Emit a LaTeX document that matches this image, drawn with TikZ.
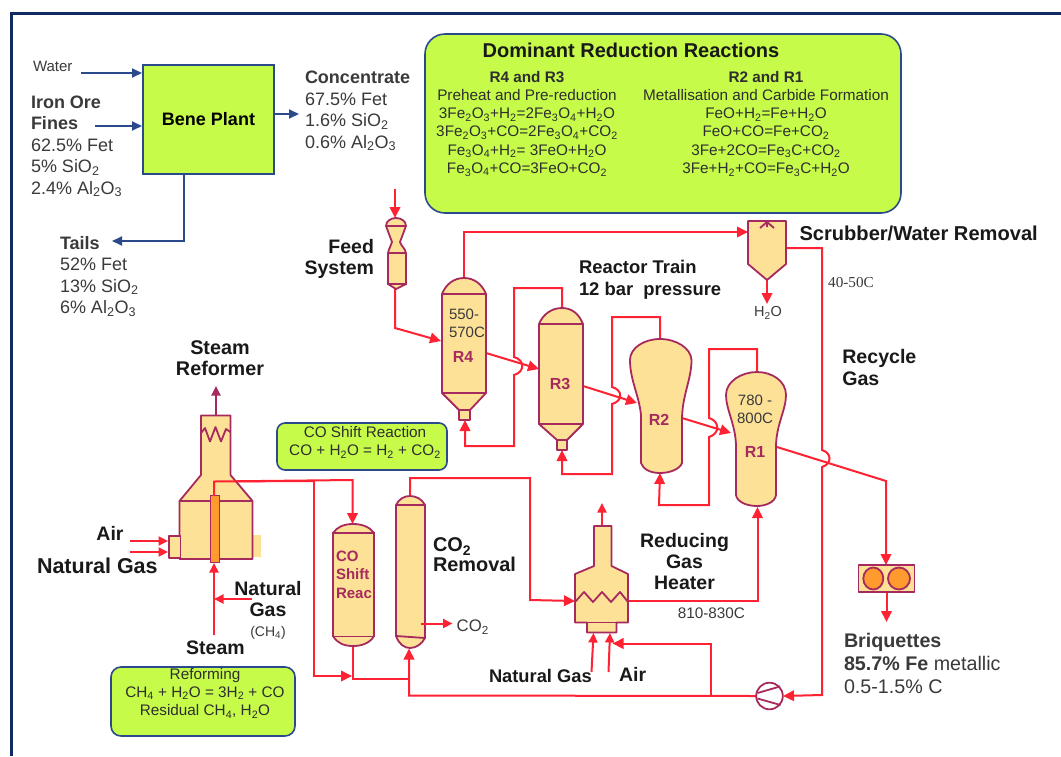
\documentclass[tikz,border=0pt]{standalone}
\usepackage{fontspec}
\setmainfont{Liberation Sans}
\newfontfamily\serifnum{Liberation Serif}
\usetikzlibrary{arrows.meta}
\definecolor{vfill}{HTML}{FDE197}
\definecolor{vline}{HTML}{A62A5E}
\definecolor{redl}{HTML}{FF2233}
\definecolor{lime}{HTML}{C6FB4A}
\definecolor{navy}{HTML}{2B4A8C}
\definecolor{frameblue}{HTML}{102A66}
\definecolor{orangef}{HTML}{FF9A2E}
\definecolor{ink}{HTML}{3A3A3A}
\newcommand\sbb[1]{\textsubscript{#1}}
\tikzset{
  x=1pt,y=-1pt,
  vessel/.style={draw=vline,fill=vfill,line width=1.8pt,line join=round},
  vstroke/.style={draw=vline,line width=1.8pt},
  pipe/.style={draw=redl,line width=2pt,line join=miter},
  arr/.style={pipe,-{Triangle[length=11pt,width=10.5pt]}},
  arrs/.style={pipe,-{Triangle[length=9.5pt,width=9pt]}},
  navyarr/.style={draw=navy,line width=1.8pt,-{Triangle[length=10pt,width=9pt]}},
  limebox/.style={draw=navy,fill=lime,line width=1.6pt,outer sep=0pt},
  txt/.style={inner sep=0pt,outer sep=0pt,text=ink,font=\fontsize{18}{21.5}\selectfont},
  hd/.style={inner sep=0pt,outer sep=0pt,text=black!90,font=\fontsize{19.5}{21}\selectfont\bfseries},
  tag/.style={inner sep=0pt,outer sep=0pt,text=vline,font=\fontsize{16}{19}\selectfont\bfseries},
  rx/.style={inner sep=0pt,outer sep=0pt,text=ink!80!black,font=\fontsize{15.3}{18.3}\selectfont},
}
\begin{document}
\begin{tikzpicture}
\useasboundingbox (0,0) rectangle (1061,756);
\fill[white] (0,0) rectangle (1061,756);
\draw[frameblue,line width=3pt] (11,756) -- (11,13) -- (1061,13);

% ---- Bene plant
\node[limebox,minimum width=131pt,minimum height=109pt,inner sep=0pt,anchor=north west,font=\fontsize{18}{21}\selectfont\bfseries] (bene) at (143,65) {Bene Plant};
\coordinate (waterS) at (81,73);   \coordinate (waterE) at (142,73);
\coordinate (oreS) at (95,126);    \coordinate (oreE) at (142,126);
\coordinate (concS) at (274,114);  \coordinate (concE) at (299,114);
\coordinate (tailS) at (184,174);  \coordinate (tailK) at (184,241); \coordinate (tailE) at (112,241);
\draw[navyarr] (waterS) -- (waterE);
\draw[navyarr] (oreS) -- (oreE);
\draw[navyarr] (concS) -- (concE);
\draw[navyarr] (tailS) -- (tailK) -- (tailE);
\node[txt,anchor=west,font=\fontsize{15}{18}\selectfont] (water) at (33,66) {Water};
\node[txt,anchor=north west,align=left] (ore) at (31,95.5) {\textbf{Iron Ore}\\\textbf{Fines}\\62.5\% Fet\\5\% SiO\sbb{2}\\2.4\% Al\sbb{2}O\sbb{3}};
\node[txt,anchor=north west,align=left] (conc) at (305,71) {\textbf{Concentrate}\\67.5\% Fet\\1.6\% SiO\sbb{2}\\0.6\% Al\sbb{2}O\sbb{3}};
\node[txt,anchor=north west,align=left] (tails) at (60,236) {\textbf{Tails}\\52\% Fet\\13\% SiO\sbb{2}\\6\% Al\sbb{2}O\sbb{3}};

% ---- Dominant reactions box
\node[limebox,rounded corners=20pt,minimum width=476pt,minimum height=179pt,inner sep=0pt,anchor=north west] (dom) at (425,34) {};
\node[inner sep=0pt,text=black!90,font=\fontsize{20}{24}\selectfont\bfseries] (domt) at (631,50) {Dominant Reduction Reactions};
\node[rx,anchor=north,align=center] (rl) at (527,71) {\textbf{R4 and R3}\\Preheat and Pre-reduction\\3Fe\sbb{2}O\sbb{3}+H\sbb{2}=2Fe\sbb{3}O\sbb{4}+H\sbb{2}O\\3Fe\sbb{2}O\sbb{3}+CO=2Fe\sbb{3}O\sbb{4}+CO\sbb{2}\\Fe\sbb{3}O\sbb{4}+H\sbb{2}= 3FeO+H\sbb{2}O\\Fe\sbb{3}O\sbb{4}+CO=3FeO+CO\sbb{2}};
\node[rx,anchor=north,align=center] (rr) at (766,71) {\textbf{R2 and R1}\\Metallisation and Carbide Formation\\FeO+H\sbb{2}=Fe+H\sbb{2}O\\FeO+CO=Fe+CO\sbb{2}\\3Fe+2CO=Fe\sbb{3}C+CO\sbb{2}\\3Fe+H\sbb{2}+CO=Fe\sbb{3}C+H\sbb{2}O};

% ---- Connectors (under the vessels)
\coordinate (feedIn) at (395,189);  \coordinate (feedTop) at (395,218);
\coordinate (feedOut) at (395,289); \coordinate (feedK) at (395,328); \coordinate (r4In) at (441,341);
\draw[arr] (feedIn) -- (feedTop);
\draw[arr] (feedOut) -- (feedK) -- (r4In);

\coordinate (r4Top) at (464,278); \coordinate (r4K) at (464,232); \coordinate (scrIn) at (748,232);
\draw[arr] (r4Top) -- (r4K) -- (scrIn);

\coordinate (r4Out) at (486,353); \coordinate (r3In) at (539,369);
\coordinate (r3Top) at (562,308); \coordinate (r3K1) at (562,288); \coordinate (r3K2) at (514,288);
\coordinate (h4a) at (514,357); \coordinate (h4b) at (514,375);
\coordinate (r3K3) at (514,446); \coordinate (r3K4) at (465,446); \coordinate (r4Bot) at (465,420);
\draw[arr] (r4Out) -- (r3In);
\draw[arr] (r3Top) -- (r3K1) -- (r3K2) -- (h4a) .. controls (525,360) and (525,372) .. (h4b) -- (r3K3) -- (r3K4) -- (r4Bot);

\coordinate (r3Out) at (583,386); \coordinate (r2In) at (637,403);
\coordinate (r2Top) at (660,339); \coordinate (r2K1) at (660,317); \coordinate (r2K2) at (612,317);
\coordinate (h3a) at (612,387); \coordinate (h3b) at (612,404);
\coordinate (r2K3) at (612,474); \coordinate (r2K4) at (562,474); \coordinate (r3Bot) at (562,450);
\draw[arr] (r3Out) -- (r2In);
\draw[arr] (r2Top) -- (r2K1) -- (r2K2) -- (h3a) .. controls (623,390) and (623,401) .. (h3b) -- (r2K3) -- (r2K4) -- (r3Bot);

\coordinate (r2Out) at (682,418); \coordinate (r1In) at (731,433);
\coordinate (r1Top) at (757,372); \coordinate (r1K1) at (757,349); \coordinate (r1K2) at (709,349);
\coordinate (h2a) at (709,418); \coordinate (h2b) at (709,437);
\coordinate (r1K3) at (709,505); \coordinate (r1K4) at (659,505); \coordinate (r2Bot) at (660,473);
\draw[arr] (r2Out) -- (r1In);
\draw[arr] (r1Top) -- (r1K1) -- (r1K2) -- (h2a) .. controls (720,421) and (720,434) .. (h2b) -- (r1K3) -- (r1K4) -- (r2Bot);

\coordinate (r1Out) at (777,447); \coordinate (briqK) at (886,481); \coordinate (briqIn) at (886,565);
\draw[arr] (r1Out) -- (briqK) -- (briqIn);
\coordinate (briqOut) at (886.5,592); \coordinate (briqE) at (886.5,622);
\draw[arr] (briqOut) -- (briqE);

\coordinate (scrOut) at (786,248); \coordinate (recK) at (822,248);
\coordinate (h1a) at (822,450); \coordinate (h1b) at (822,467);
\coordinate (recK2) at (822,695); \coordinate (compR) at (783,696);
\draw[arr] (scrOut) -- (recK) -- (h1a) .. controls (832,453) and (832,464) .. (h1b) -- (recK2) -- (compR);
\coordinate (scrBot) at (767,280); \coordinate (waterOut) at (767,304);
\draw[arr] (scrBot) -- (waterOut);

% compressor line and recycle
\coordinate (compL) at (756,696); \coordinate (recB) at (711,696); \coordinate (recU) at (711,643.5); \coordinate (heatR) at (612.5,643.5);
\coordinate (co2K) at (409,695.5); \coordinate (co2Bot) at (409,648.5);
\draw[arr] (compL) -- (co2K) -- (co2Bot);
\draw[arr] (recB) -- (recU) -- (heatR);

% reformer outlet
\coordinate (tubeTop) at (214,496); \coordinate (tubeK) at (214,481.5); \coordinate (brk) at (313.5,481);
\coordinate (shK) at (352.5,480); \coordinate (shTop) at (352.5,524);
\coordinate (brkB) at (313.5,676); \coordinate (brkE) at (352,676);
\draw[arr] (tubeTop) -- (tubeK) -- (shK) -- (shTop);
\draw[arr] (brk) -- (brkB) -- (brkE);
\coordinate (shBot) at (352.5,646); \coordinate (shK2) at (352.5,679); \coordinate (shK3) at (409,679);
\draw[pipe] (shBot) -- (shK2) -- (shK3);
\coordinate (co2Top) at (410,496); \coordinate (co2K2) at (410,478); \coordinate (co2K3) at (530,478);
\coordinate (co2K4) at (530,600); \coordinate (heatIn) at (575,601);
\draw[arr] (co2Top) -- (co2K2) -- (co2K3) -- (co2K4) -- (heatIn);

% heater
\coordinate (heatOut) at (628,601); \coordinate (heatK) at (757.5,601); \coordinate (r1Bot) at (757.5,507);
\draw[arr] (heatOut) -- (heatK) -- (r1Bot);
\coordinate (heatTop) at (602,526); \coordinate (heatStack) at (602,503);
\draw[arrs] (heatTop) -- (heatStack);
\coordinate (hNgS) at (591.5,672); \coordinate (hNgE) at (593.5,633);
\coordinate (hAirS) at (608.5,672); \coordinate (hAirE) at (610,633);
\draw[arrs] (hNgS) -- (hNgE);
\draw[arrs] (hAirS) -- (hAirE);

% reformer feeds
\coordinate (stS) at (214,635); \coordinate (stE) at (214,563);
\coordinate (ngS) at (252,599); \coordinate (ngE) at (214,599);
\draw[arrs] (stS) -- (stE);
\draw[arrs] (ngS) -- (ngE);
\coordinate (airS) at (130,541); \coordinate (airE) at (168,541);
\coordinate (gasS) at (130,552); \coordinate (gasE) at (168,552);
\draw[arrs] (airS) -- (airE);
\draw[arrs] (gasS) -- (gasE);
\coordinate (refTop) at (216,416); \coordinate (refStack) at (216,386);
\draw[draw=vline,line width=1.8pt,-{Triangle[length=9.5pt,width=9pt]}] (refTop) -- (refStack);

% ---- Feed system
\path[vessel] (386,226) .. controls (386,221) and (391,218) .. (396,218) .. controls (401,218) and (406,221) .. (406,226) -- (400,242) .. controls (401,246) and (405,248) .. (406,253) -- (406,284) -- (396,289) -- (388,284) -- (388,253) .. controls (389,248) and (391,246) .. (392,242) -- cycle;
\draw[vstroke] (386,226) -- (406,226) (388,253) -- (406,253) (386.5,284) -- (407,284);

% ---- R4
\path[vessel] (442,294) .. controls (446,284) and (454,278) .. (464,278) .. controls (474,278) and (482,284) .. (486,294) -- (486,393) -- (470,410) -- (470,420) -- (459,420) -- (459,410) -- (442,393) -- cycle;
\draw[vstroke] (442,294) -- (486,294) (442,393) -- (486,393) (459,410) -- (470,410);
\node[txt,anchor=north west,align=left,font=\fontsize{15}{18.3}\selectfont] (r4t) at (449,309) {550-\\570C};
\node[tag] (r4) at (463,357) {R4};

% ---- R3
\path[vessel] (539,324) .. controls (543,314) and (552,308) .. (562,308) .. controls (572,308) and (579,314) .. (583,324) -- (583,424) -- (567,440) -- (567,450) -- (557,450) -- (557,440) -- (539,424) -- cycle;
\draw[vstroke] (539,324) -- (583,324) (539,424) -- (583,424) (557,440) -- (567,440);
\node[tag] (r3) at (560,384) {R3};

% ---- R2
\path[vessel] (660,339) .. controls (676,339) and (691,348) .. (691.5,360) .. controls (691.5,380) and (682,395) .. (682,420) -- (682,463) .. controls (680,469) and (670,473) .. (660,473) .. controls (650,473) and (643,469) .. (641,463) -- (641,415) .. controls (639,395) and (630,380) .. (630,360) .. controls (630,348) and (644,339) .. (660,339) -- cycle;
\node[tag] (r2) at (659,420) {R2};

% ---- R1
\path[vessel] (757,372) .. controls (772,372) and (786,381) .. (786,395) .. controls (786,410) and (776,425) .. (776,447) -- (776,495) .. controls (775,502) and (766,506) .. (757,506) .. controls (747,506) and (737,502) .. (736,495) -- (736,447) .. controls (736,425) and (726,410) .. (726,395) .. controls (726,381) and (742,372) .. (757,372) -- cycle;
\node[txt,anchor=north,align=center,font=\fontsize{15}{18.3}\selectfont] (r1t) at (755,395) {780 -\\800C};
\node[tag] (r1) at (755,452) {R1};

% ---- Scrubber
\path[vessel] (748,221) -- (786,221) -- (786,264) -- (767,280) -- (748,264) -- cycle;
\draw[vstroke] (760,228) -- (767,222) -- (774,228) (767,221) -- (767,227);
\node[txt,font=\fontsize{14.5}{17}\selectfont] (h2o) at (768,313) {H\sbb{2}O};

% ---- Reformer
\fill[vfill] (251,535) rectangle (261,557);
\path[vessel] (201,415.5) -- (230.5,415.5) -- (230.5,475) -- (252.5,501) -- (252.5,559) -- (179.5,559) -- (179.5,501) -- (201,475) -- cycle;
\draw[vstroke] (179.5,501) -- (252.5,501);
\draw[vstroke,line join=round] (201,433) -- (205,428) -- (210,441.5) -- (215.5,427) -- (221,441.5) -- (226,429) -- (230.5,432);
\path[vessel] (169,536) rectangle (180.5,558);
\path[draw=vline,fill=orangef,line width=1.8pt] (210.5,495.5) rectangle (219.5,562.5);
\draw[pipe] (tubeTop) -- (tubeK) -- (brk);

% ---- CO shift
\path[vessel] (333,533) .. controls (337,527) and (344,524) .. (353,524) .. controls (362,524) and (370,527) .. (374,533) -- (374,636) .. controls (370,643) and (362,646) .. (353,646) .. controls (344,646) and (337,643) .. (333,636) -- cycle;
\draw[vstroke] (332,533) -- (375,533) (332,636.5) -- (375,636.5);
\node[tag,anchor=north west,align=left,font=\fontsize{15}{18.3}\selectfont\bfseries] (shift) at (336,551) {CO\\Shift\\Reac};

% ---- CO2 removal
\path[vessel] (396,505) .. controls (399,499) and (404,496) .. (410,496) .. controls (416,496) and (422,499) .. (425,505) -- (425,638) .. controls (422,644) and (416,648) .. (410,648) .. controls (404,648) and (399,644) .. (396,636) -- cycle;
\draw[vstroke] (396,505) -- (425,505) (396,636) -- (425,638);
\coordinate (co2Out) at (420.5,623.5); \coordinate (co2E) at (452.5,623.5);
\draw[arrs] (co2Out) -- (co2E);

% ---- Heater
\path[vessel] (594,526) -- (611.5,526) -- (611.5,566) -- (628,574) -- (628,622.5) -- (616.5,622.5) -- (616.5,632.5) -- (587,632.5) -- (587,622.5) -- (575,622.5) -- (575,574) -- (594,566) -- cycle;
\draw[vstroke] (575,622.5) -- (628,622.5);
\draw[vstroke,line join=round] (575,602) -- (584,592) -- (593,602) -- (602,592) -- (611,602) -- (620,592) -- (628,602);

% ---- Compressor
\draw[draw=vline,fill=white,line width=1.8pt] (769.5,696) circle (13.3);
\draw[vstroke] (757.5,693) -- (780,686.5) (757.5,698.5) -- (780.5,705);

% ---- Briquetting
\path[vessel] (858.5,565) rectangle (914.5,592.3);
\path[draw=vline,fill=orangef,line width=1.8pt] (873.3,578.5) ellipse (10 and 11);
\path[draw=vline,fill=orangef,line width=1.8pt] (899,578.5) ellipse (11 and 11);

% ---- Small boxes
\node[limebox,rounded corners=8pt,minimum width=170pt,minimum height=47pt,inner sep=0pt,anchor=north west] (shbox) at (277,423) {};
\node[rx,align=center] (shtxt) at (365,442.5) {CO Shift Reaction\\CO + H\sbb{2}O = H\sbb{2} + CO\sbb{2}};
\node[limebox,rounded corners=10pt,minimum width=184pt,minimum height=69pt,inner sep=0pt,anchor=north west] (refbox) at (111,667) {};
\node[rx,anchor=north,align=center] (reftxt) at (205,668) {Reforming\\CH\sbb{4} + H\sbb{2}O = 3H\sbb{2} + CO\\Residual CH\sbb{4}, H\sbb{2}O};

% ---- Labels
\node[hd,anchor=west,font=\fontsize{20.1}{22}\selectfont\bfseries] (scrl) at (799.5,233.5) {Scrubber/Water Removal};
\node[inner sep=0pt,text=ink,font=\serifnum\fontsize{15.2}{18}\selectfont] (t40) at (851,283) {40-50C};
\node[hd,anchor=north west,align=left,font=\fontsize{18.4}{21.5}\selectfont\bfseries] (train) at (579,260.5) {Reactor Train\\12 bar\ \ pressure};
\node[hd,anchor=north west,align=left,font=\fontsize{19.6}{22.6}\selectfont\bfseries] (recy) at (842.3,349) {Recycle\\Gas};
\node[hd,anchor=north east,align=right] (feed) at (374,239) {Feed\\System};
\node[hd,align=center,font=\fontsize{19.8}{21}\selectfont\bfseries] (sref) at (220,358) {Steam\\Reformer};
\node[hd] (airl) at (110,533) {Air};
\node[hd,anchor=west,font=\fontsize{21.5}{24}\selectfont\bfseries] (ngl) at (37,566) {Natural Gas};
\node[hd,align=center] (ngl2) at (268,599.5) {Natural\\Gas};
\node[inner sep=0pt,text=ink,font=\fontsize{14}{16}\selectfont] (ch4) at (268,633) {(CH\sbb{4})};
\node[hd] (steam) at (215.5,648) {Steam};
\node[hd,anchor=north west,align=left,font=\fontsize{19.9}{20}\selectfont\bfseries] (co2r) at (433,538) {CO\sbb{2}\\Removal};
\node[txt,anchor=west,font=\fontsize{16.7}{20}\selectfont] (co2) at (456.7,627) {CO\sbb{2}};
\node[hd,align=center] (rgh) at (684.5,561.5) {Reducing\\Gas\\Heater};
\node[inner sep=0pt,text=ink,font=\fontsize{15.3}{18}\selectfont] (t810) at (711.4,613) {810-830C};
\node[hd,anchor=west,font=\fontsize{18.3}{21}\selectfont\bfseries] (ngh) at (489,675.5) {Natural Gas};
\node[hd,anchor=west] (airh) at (619,674.5) {Air};
\node[txt,anchor=north west,align=left,font=\fontsize{19.7}{23.2}\selectfont] (briq) at (844,633) {\textbf{Briquettes}\\\textbf{85.7\% Fe} metallic\\0.5-1.5\% C};
\end{tikzpicture}
\end{document}
